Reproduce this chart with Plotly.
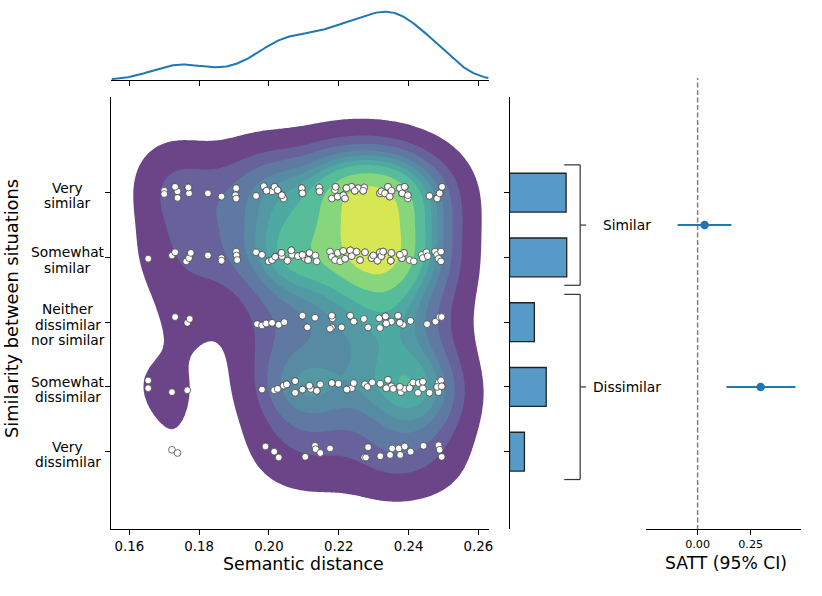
import numpy as np
import plotly.graph_objects as go
from plotly.colors import sample_colorscale

W, H = 822, 596

# categories, bottom (code 0) to top (code 4)
levels = ["Very\ndissimilar", "Somewhat\ndissimilar", "Neither\ndissimilar\nnor similar",
          "Somewhat\nsimilar", "Very\nsimilar"]

# semantic distance of each response, per similarity level, plus the strip jitter
# (responses hidden under others are listed at the end of a row)
vd_x = [0.1722, 0.1738, 0.1990, 0.2015, 0.2028, 0.2104, 0.2132, 0.2134, 0.2147, 0.2175, 0.2273, 0.2278,
        0.2284, 0.2319, 0.2347, 0.2353, 0.2372, 0.2376, 0.2389, 0.2406, 0.2443, 0.2486, 0.2489, 0.2495]
vd_j = [0.03, -0.02, 0.08, 0.00, -0.09, -0.08, 0.09, 0.04, -0.02, 0.05, -0.09, -0.09,
        0.07, -0.07, -0.05, 0.05, 0.05, -0.05, 0.08, 0.00, 0.09, 0.10, 0.03, -0.08]

sd_x = [0.1654, 0.1654, 0.1722, 0.1766, 0.1980, 0.2015, 0.2025, 0.2042, 0.2051, 0.2075, 0.2075, 0.2096,
        0.2116, 0.2120, 0.2137, 0.2147, 0.2180, 0.2199, 0.2223, 0.2237, 0.2243, 0.2275, 0.2282, 0.2296,
        0.2319, 0.2336, 0.2341, 0.2351, 0.2356, 0.2375, 0.2378, 0.2389, 0.2403, 0.2406, 0.2413, 0.2427,
        0.2429, 0.2441, 0.2441, 0.2460, 0.2482, 0.2486, 0.2486, 0.2493, 0.2495,
        0.2042, 0.2051, 0.2075, 0.2096, 0.2116, 0.2137, 0.2180, 0.2223, 0.2336, 0.2375, 0.2403, 0.2441,
        0.2482, 0.2495]
sd_j = [0.10, -0.02, -0.08, -0.05, -0.04, -0.05, -0.03, 0.02, 0.04, 0.09, -0.09, -0.04,
        0.02, -0.03, -0.06, 0.04, 0.06, 0.05, -0.04, -0.02, 0.06, 0.04, 0.00, 0.07,
        0.05, -0.02, 0.11, 0.01, -0.03, 0.00, -0.08, -0.03, -0.02, 0.02, 0.07, -0.09,
        0.06, 0.08, -0.02, -0.09, 0.00, 0.07, -0.08, 0.10, 0.01,
        0.02, 0.04, 0.09, -0.04, 0.02, -0.06, 0.06, -0.04, -0.02, 0.00, -0.02, 0.08,
        0.00, 0.01]

ne_x = [0.1731, 0.1766, 0.1773, 0.1966, 0.1980, 0.1992, 0.2009, 0.2028, 0.2044, 0.2096, 0.2110, 0.2132,
        0.2180, 0.2182, 0.2180, 0.2175, 0.2208, 0.2233, 0.2243, 0.2272, 0.2284, 0.2316, 0.2318, 0.2334,
        0.2336, 0.2351, 0.2370, 0.2375, 0.2384, 0.2406, 0.2453, 0.2477, 0.2489, 0.2495,
        0.2180, 0.2233, 0.2334, 0.2336, 0.2370, 0.2375]
ne_j = [0.08, -0.01, 0.05, -0.03, -0.05, -0.02, -0.01, -0.04, 0.00, 0.10, -0.08, 0.07,
        0.10, 0.06, -0.08, -0.10, -0.08, 0.10, 0.01, 0.05, -0.08, 0.06, -0.09, 0.09,
        -0.02, 0.01, 0.10, -0.01, -0.04, 0.02, -0.03, 0.01, 0.08, 0.08,
        0.10, 0.10, 0.09, -0.02, 0.10, -0.01]

ss_x = [0.1654, 0.1722, 0.1731, 0.1763, 0.1771, 0.1776, 0.1825, 0.1864, 0.1864, 0.1906, 0.1907, 0.1909,
        0.1963, 0.1980, 0.1999, 0.2009, 0.2018, 0.2036, 0.2037, 0.2053, 0.2064, 0.2066, 0.2083, 0.2096,
        0.2102, 0.2112, 0.2116, 0.2133, 0.2137, 0.2175, 0.2180, 0.2189, 0.2197, 0.2204, 0.2213, 0.2218,
        0.2233, 0.2237, 0.2251, 0.2261, 0.2275, 0.2294, 0.2299, 0.2311, 0.2318, 0.2322, 0.2327, 0.2349,
        0.2351, 0.2375, 0.2381, 0.2387, 0.2403, 0.2415, 0.2438, 0.2441, 0.2451, 0.2455, 0.2476, 0.2482,
        0.2486, 0.2493, 0.2493,
        0.2009, 0.2018, 0.2036, 0.2053, 0.2064, 0.2083, 0.2096, 0.2112,
        0.2381, 0.2387, 0.2322, 0.2327, 0.2349, 0.2213, 0.2218, 0.2233, 0.2237, 0.2251, 0.2261, 0.2275,
        0.2294, 0.2299, 0.2311, 0.2318, 0.2322, 0.2327, 0.2349, 0.2351, 0.2375]
ss_j = [-0.02, 0.03, 0.08, -0.06, -0.01, 0.07, 0.03, -0.01, -0.05, 0.09, 0.03, -0.04,
        0.08, 0.04, -0.06, -0.04, 0.01, 0.07, 0.02, -0.05, 0.11, 0.04, 0.02, 0.04,
        -0.01, -0.04, 0.07, 0.03, -0.06, 0.09, 0.01, -0.04, 0.07, -0.06, 0.10, -0.02,
        0.11, 0.02, 0.09, -0.04, 0.08, -0.01, 0.03, -0.05, 0.08, 0.02, 0.09, -0.05,
        0.07, 0.04, -0.01, 0.07, -0.04, -0.06, 0.04, -0.01, 0.08, 0.02, 0.09, 0.04,
        -0.02, 0.09, -0.06,
        -0.04, 0.01, 0.07, -0.05, 0.11, 0.02, 0.04, -0.04,
        -0.01, 0.07, 0.02, 0.09, -0.05, 0.10, -0.02, 0.11, 0.02, 0.09, -0.04, 0.08,
        -0.01, 0.03, -0.05, 0.08, 0.02, 0.09, -0.05, 0.07, 0.04]

vs_x = [0.1700, 0.1700, 0.1731, 0.1738, 0.1738, 0.1769, 0.1771, 0.1825, 0.1864, 0.1906, 0.1904, 0.1906,
        0.1963, 0.1985, 0.1993, 0.2016, 0.2009, 0.2025, 0.2037, 0.2042, 0.2094, 0.2096, 0.2144, 0.2145,
        0.2191, 0.2189, 0.2197, 0.2180, 0.2213, 0.2218, 0.2222, 0.2237, 0.2246, 0.2256, 0.2273, 0.2270,
        0.2318, 0.2322, 0.2332, 0.2341, 0.2351, 0.2346, 0.2375, 0.2382, 0.2398, 0.2398, 0.2389, 0.2460,
        0.2482, 0.2489, 0.2496,
        0.2375, 0.2351, 0.2197, 0.2382, 0.2213, 0.2218, 0.2222, 0.2237, 0.2246, 0.2256, 0.2273, 0.2270,
        0.2318, 0.2322, 0.2332, 0.2341, 0.2351, 0.2346, 0.2375, 0.2382, 0.2398, 0.2389, 0.2191, 0.2222,
        0.2246,
        0.2016, 0.2025, 0.2037, 0.2094, 0.2096, 0.2144, 0.2460, 0.2482, 0.2489, 0.2496, 0.1731, 0.1769,
        0.1906, 0.1993, 0.2145]
vs_j = [0.03, -0.02, 0.09, 0.02, -0.08, 0.08, -0.01, -0.01, -0.06, 0.07, -0.04, -0.09,
        -0.05, 0.10, 0.03, 0.09, 0.02, 0.04, -0.04, -0.09, 0.07, -0.01, 0.08, 0.02,
        0.09, 0.04, -0.06, -0.09, -0.04, -0.09, 0.07, 0.09, 0.03, 0.07, 0.08, 0.03,
        -0.01, 0.02, -0.01, 0.09, 0.03, -0.06, 0.07, -0.01, -0.04, -0.09, 0.09, -0.05,
        -0.09, -0.01, 0.09,
        0.07, 0.03, -0.06, -0.01, -0.04, -0.09, 0.07, 0.09, 0.03, 0.07, 0.08, 0.03,
        -0.01, 0.02, -0.01, 0.09, 0.03, -0.06, 0.07, -0.01, -0.04, 0.09, 0.09, 0.07,
        0.03,
        0.09, 0.04, -0.04, 0.07, -0.01, 0.08, -0.05, -0.09, -0.01, 0.09, 0.09, 0.08,
        0.07, 0.03, 0.02]

row_x = [vd_x, sd_x, ne_x, ss_x, vs_x]
row_j = [vd_j, sd_j, ne_j, ss_j, vs_j]

# responses per level (bar panel)
n_per_level = [24, 59, 40, 92, 91]

# SATT estimates with 95% CI
groups = ["Similar", "Dissimilar"]
group_levels = [[3, 4], [0, 1, 2]]
satt = [0.033, 0.297]
satt_lo = [-0.094, 0.136]
satt_hi = [0.159, 0.461]

x_ticks = [0.16, 0.18, 0.20, 0.22, 0.24, 0.26]
satt_ticks = [0.0, 0.25]

XR = [0.15487, 0.26294]
YR = [-1.194, 5.478]
BLUE = "#1f77b4"
FONT = "DejaVu Sans"


def fx(p):
    return p / W


def fy(p):
    return 1 - p / H


pts_x = np.concatenate([np.array(v) for v in row_x])
pts_y = np.concatenate([code + np.array(j) for code, j in enumerate(row_j)])
n = len(pts_x)

# bivariate gaussian KDE, Scott's rule
data = np.vstack([pts_x, pts_y])
kcov = np.cov(data) * n ** (-2.0 / 6)
inv = np.linalg.inv(kcov)
bw = np.sqrt(np.diag(kcov))
gx = np.linspace(pts_x.min() - 3 * bw[0], pts_x.max() + 3 * bw[0], 200)
gy = np.linspace(pts_y.min() - 3 * bw[1], pts_y.max() + 3 * bw[1], 200)
GX, GY = np.meshgrid(gx, gy)
dens = np.zeros_like(GX)
for a, b in zip(pts_x, pts_y):
    dx = GX - a
    dy = GY - b
    dens += np.exp(-0.5 * (inv[0, 0] * dx * dx + 2 * inv[0, 1] * dx * dy + inv[1, 1] * dy * dy))

# turn density into iso-proportion so contour levels can be evenly spaced
flat = dens.ravel()
order = np.argsort(flat)[::-1]
cum = np.cumsum(flat[order]) / flat.sum()
iso = np.empty_like(flat)
iso[order] = 1 - cum
iso = iso.reshape(dens.shape)

props = np.linspace(0.05, 1, 10)
idx = np.clip(np.searchsorted(cum, 1 - props), 0, len(flat) - 1)
lev = flat[order][idx]
layers = (lev[:-1] + lev[1:]) / 2
band_pos = (layers - lev[0]) / (lev[-1] - lev[0])
band_cols = sample_colorscale("Viridis", list(np.clip(band_pos, 0, 1)))
cscale = [[0, "rgb(255,255,255)"]] + [[(k + 1) / 9, c] for k, c in enumerate(band_cols)]
step = props[1] - props[0]

fig = go.Figure()

fig.add_trace(go.Contour(
    x=gx, y=gy, z=iso, autocontour=False,
    contours=dict(start=props[0], end=props[-2], size=step, coloring="fill", showlines=False),
    colorscale=cscale, showscale=False, opacity=0.8, line_width=0, hoverinfo="skip",
    xaxis="x", yaxis="y"))

fig.add_trace(go.Scatter(
    x=pts_x, y=pts_y, mode="markers", xaxis="x", yaxis="y",
    marker=dict(size=6.8, color="white", line=dict(color="#333333", width=0.7))))

# marginal KDE
mbw = n ** (-1 / 5) * pts_x.std(ddof=1)
mx = np.linspace(XR[0], XR[1], 300)
my = np.exp(-0.5 * ((mx[:, None] - pts_x[None, :]) / mbw) ** 2).sum(1) / (n * mbw * np.sqrt(2 * np.pi))
fig.add_trace(go.Scatter(x=mx, y=my, mode="lines", line=dict(color=BLUE, width=2),
                         xaxis="x2", yaxis="y2"))

fig.add_trace(go.Bar(
    x=n_per_level, y=list(range(len(levels))), orientation="h", width=0.6,
    marker=dict(color="rgba(31,119,180,0.75)", line=dict(color="#222222", width=1.3)),
    xaxis="x3", yaxis="y3"))

group_y = [float(np.mean(g)) for g in group_levels]
fig.add_trace(go.Scatter(
    x=satt, y=group_y, mode="markers", xaxis="x4", yaxis="y4",
    marker=dict(size=8.5, color=BLUE),
    error_x=dict(type="data", symmetric=False,
                 array=[h - e for h, e in zip(satt_hi, satt)],
                 arrayminus=[e - l for e, l in zip(satt, satt_lo)],
                 color=BLUE, thickness=2, width=0)))

axis_common = dict(showgrid=False, zeroline=False, showline=True, linecolor="black", linewidth=1,
                   ticks="outside", ticklen=5, tickwidth=1, tickcolor="black")
main_dom_y = [fy(529), fy(97)]

fig.update_layout(
    width=W, height=H, margin=dict(l=0, r=0, t=0, b=0),
    paper_bgcolor="white", plot_bgcolor="white", showlegend=False,
    font=dict(family=FONT, color="black"),
    xaxis=dict(axis_common, domain=[fx(112), fx(491)], range=XR, anchor="y",
               tickvals=x_ticks, tickformat=".2f", tickfont=dict(size=13.3)),
    yaxis=dict(axis_common, domain=main_dom_y, range=YR, anchor="x",
               tickvals=list(range(len(levels))), showticklabels=False),
    xaxis2=dict(axis_common, domain=[fx(112), fx(491)], range=XR, anchor="y2",
                tickvals=x_ticks, showticklabels=False),
    yaxis2=dict(domain=[fy(80), fy(8)], range=[0, my.max() * 72 / 68.3], visible=False),
    xaxis3=dict(domain=[fx(512), fx(592)], range=[0, 128], visible=False, anchor="y3"),
    yaxis3=dict(axis_common, domain=main_dom_y, range=YR, anchor="x3",
                tickvals=list(range(len(levels))), showticklabels=False),
    xaxis4=dict(axis_common, domain=[fx(649), fx(805)], range=[-0.244, 0.4875], anchor="y4",
                tickvals=satt_ticks, tickformat=".2f", tickfont=dict(size=11.2)),
    yaxis4=dict(domain=main_dom_y, range=YR, visible=False, anchor="x4"),
)

shapes = [dict(type="line", xref="x4", yref="paper", x0=0, x1=0, y0=fy(530), y1=fy(78),
               line=dict(color="#808080", width=1.5, dash="5px,2.5px"), layer="below")]
for g in group_levels:
    top, bot = max(g) + 0.43, min(g) - 0.43
    mid = float(np.mean(g))
    ln = dict(color="#333333", width=1.2)
    shapes += [
        dict(type="line", xref="paper", yref="y", x0=fx(567), x1=fx(583), y0=top, y1=top, line=ln),
        dict(type="line", xref="paper", yref="y", x0=fx(583), x1=fx(583), y0=top, y1=bot, line=ln),
        dict(type="line", xref="paper", yref="y", x0=fx(567), x1=fx(583), y0=bot, y1=bot, line=ln),
        dict(type="line", xref="paper", yref="y", x0=fx(583), x1=fx(589), y0=mid, y1=mid, line=ln),
    ]
fig.update_layout(shapes=shapes)

ann = []
for code, lab in enumerate(levels):
    lines = lab.split("\n")
    for i, t in enumerate(lines):
        ann.append(dict(text=t, xref="paper", yref="y", x=fx(68), y=code, xanchor="center",
                        yanchor="middle", yshift=((len(lines) - 1) / 2 - i) * 15.2 - 2.5,
                        showarrow=False, font=dict(size=13.8)))
for g, y in zip(groups, group_y):
    ann.append(dict(text=g, xref="paper", yref="y", x=fx(630), y=y, xanchor="center",
                    yanchor="middle", showarrow=False, font=dict(size=13.8)))
ann += [
    dict(text="Similarity between situations", xref="paper", yref="paper", x=fx(11.5), y=fy(308.5),
         xanchor="center", yanchor="middle", textangle=-90, showarrow=False, font=dict(size=17.8)),
    dict(text="Semantic distance", xref="paper", yref="paper", x=fx(304.7), y=fy(564),
         xanchor="center", yanchor="middle", showarrow=False, font=dict(size=17.4)),
    dict(text="SATT (95% CI)", xref="paper", yref="paper", x=fx(729.5), y=fy(563.3),
         xanchor="center", yanchor="middle", showarrow=False, font=dict(size=17.2)),
]
fig.update_layout(annotations=ann)

# the page body has a default 8px margin; drop it so the figure sits at the top-left corner
fig.write_html("out.html", config={"displayModeBar": False},
               post_script="document.body.style.margin='0px';")
